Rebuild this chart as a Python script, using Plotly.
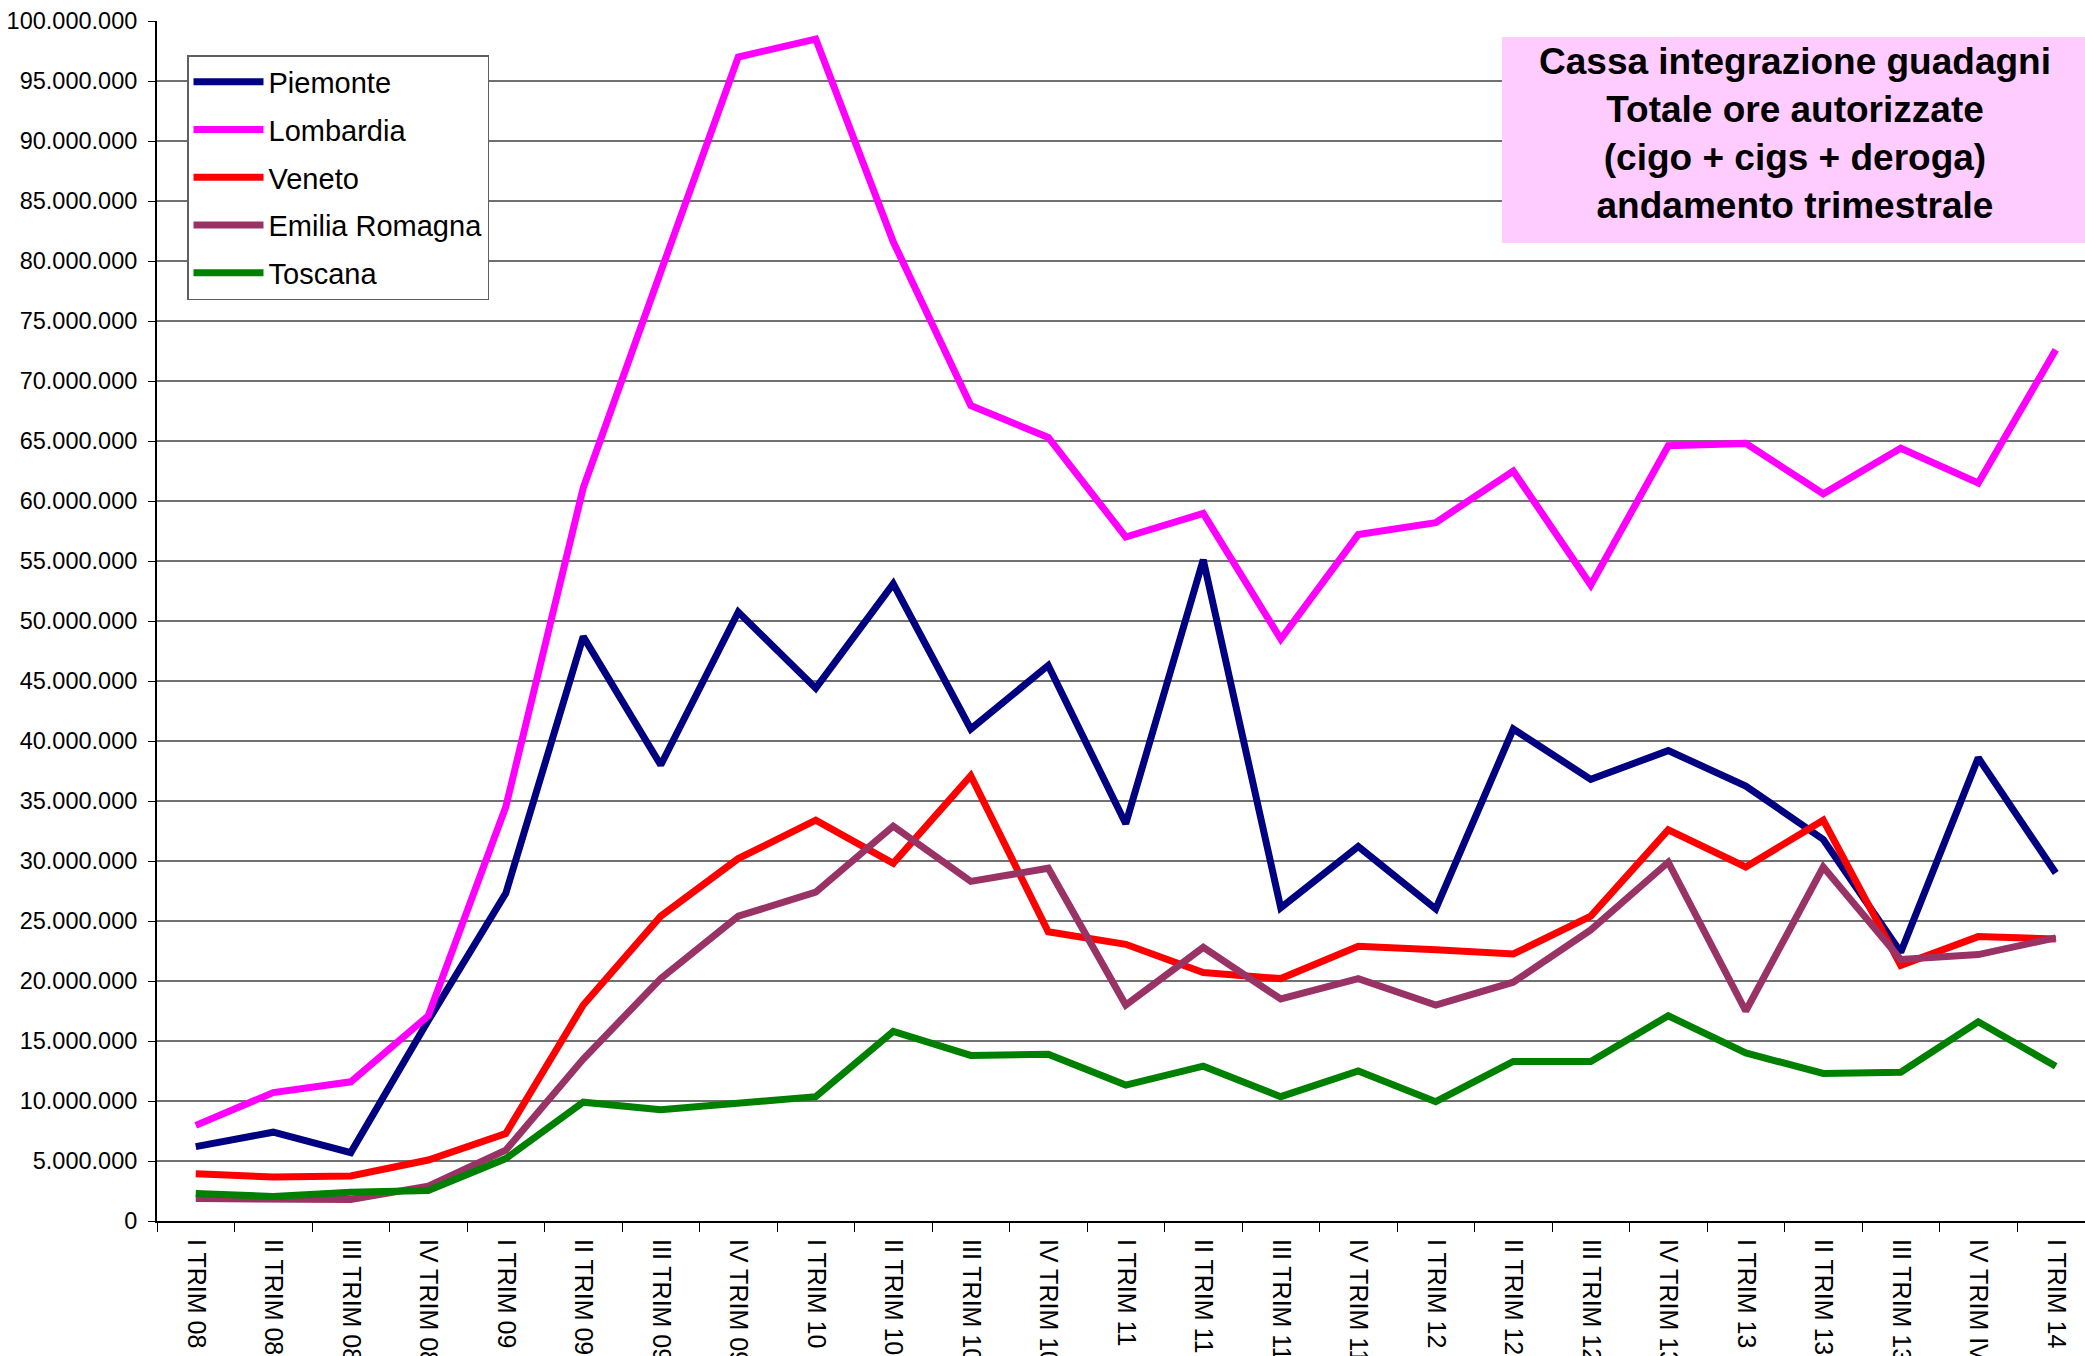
import plotly.graph_objects as go

categories = [
    "I TRIM 08", "II TRIM 08", "III TRIM 08", "IV TRIM 08",
    "I TRIM 09", "II TRIM 09", "III TRIM 09", "IV TRIM 09",
    "I TRIM 10", "II TRIM 10", "III TRIM 10", "IV TRIM 10",
    "I TRIM 11", "II TRIM 11", "III TRIM 11", "IV TRIM 11",
    "I TRIM 12", "II TRIM 12", "III TRIM 12", "IV TRIM 13",
    "I TRIM 13", "II TRIM 13", "III TRIM 13", "IV TRIM IV",
    "I TRIM 14",
]

piemonte = [6.2, 7.4, 5.7, 16.7, 27.3, 48.7, 38.0, 50.75, 44.4, 53.1, 41.0, 46.3,
            33.1, 55.1, 26.1, 31.2, 26.0, 41.0, 36.8, 39.2, 36.25, 31.8, 22.4, 38.6, 29.0]
lombardia = [7.97, 10.7, 11.6, 17.1, 34.5, 61.1, 79.1, 97.0, 98.5, 81.6, 67.95, 65.3,
             57.0, 58.97, 48.5, 57.2, 58.2, 62.5, 53.0, 64.6, 64.8, 60.6, 64.4, 61.5, 72.6]
veneto = [3.93, 3.67, 3.75, 5.08, 7.28, 18.0, 25.4, 30.2, 33.4, 29.8, 37.1, 24.1,
          23.06, 20.7, 20.2, 22.9, 22.6, 22.25, 25.4, 32.6, 29.5, 33.4, 21.3, 23.7, 23.5]
emilia_romagna = [1.87, 1.87, 1.8, 2.9, 5.9, 13.5, 20.2, 25.4, 27.4, 32.9, 28.3, 29.4,
                  18.0, 22.8, 18.5, 20.2, 18.0, 19.9, 24.25, 29.9, 17.5, 29.5, 21.8, 22.2, 23.6]
toscana = [2.3, 2.05, 2.4, 2.55, 5.2, 9.9, 9.27, 9.75, 10.36, 15.8, 13.8, 13.9,
           11.33, 12.9, 10.36, 12.5, 9.94, 13.3, 13.3, 17.1, 14.0, 12.3, 12.4, 16.6, 12.9]

series_names = ["Piemonte", "Lombardia", "Veneto", "Emilia Romagna", "Toscana"]
series_values = [piemonte, lombardia, veneto, emilia_romagna, toscana]
series_colors = ["#000080", "#FF00FF", "#FF0000", "#993366", "#008000"]

y_ticks = list(range(0, 100_000_001, 5_000_000))

title_lines = ["Cassa integrazione guadagni", "Totale ore autorizzate",
               "(cigo + cigs + deroga)", "andamento trimestrale"]

FONT = "Arial, 'Liberation Sans', sans-serif"
W, H = 2085, 1356
L, T, B = 157, 21, 135
plot_w = W - L
plot_h = H - T - B
cat_w = 77.5


def px(xp):  # page x -> paper x
    return (xp - L) / plot_w


def py(yp):  # page y -> paper y
    return (H - B - yp) / plot_h


fig = go.Figure()
for name, vals, col in zip(series_names, series_values, series_colors):
    fig.add_trace(go.Scatter(
        x=categories, y=[v * 1_000_000 for v in vals], name=name, mode="lines",
        line=dict(color=col, width=7), legendgroup=name,
    ))

x_max = -0.5 + plot_w / cat_w

fig.update_layout(
    width=W, height=H,
    margin=dict(l=L, r=0, t=T, b=B, autoexpand=False),
    paper_bgcolor="white", plot_bgcolor="white",
    separators=",.",
    font=dict(family=FONT, color="black"),
    showlegend=True,
    legend=dict(
        x=px(187), y=py(55), xanchor="left", yanchor="top",
        bgcolor="white", bordercolor="#606060", borderwidth=1.5,
        font=dict(family=FONT, size=29, color="black"),
        tracegroupgap=7, itemwidth=70,
    ),
    xaxis=dict(
        type="category", range=[-0.5, x_max], tickson="boundaries",
        ticks="outside", ticklen=9, tickcolor="black", tickwidth=1,
        showline=True, linecolor="black", linewidth=2,
        showgrid=False, tickangle=90, automargin=False,
        tickfont=dict(family=FONT, size=25, color="black"),
        ticklabelstandoff=11,
    ),
    yaxis=dict(
        range=[0, 100_000_000], tickvals=y_ticks, tickformat=",.0f",
        ticks="outside", ticklen=7, tickcolor="black", tickwidth=1,
        showline=True, linecolor="black", linewidth=2,
        showgrid=True, gridcolor="#707070", gridwidth=1.5,
        zeroline=False, automargin=False,
        tickfont=dict(family=FONT, size=23.5, color="black"),
        ticklabelstandoff=6,
    ),
)

fig.add_shape(type="rect", xref="paper", yref="paper",
              x0=px(1502), x1=1.05, y0=py(243), y1=py(37),
              fillcolor="#FFCCFF", line=dict(width=0), layer="above")
fig.add_annotation(xref="paper", yref="paper",
                   x=px(1795), y=py(134),
                   xanchor="center", yanchor="middle", showarrow=False,
                   text="<br>".join("<b>%s</b>" % t for t in title_lines),
                   align="center",
                   font=dict(family=FONT, size=37, color="black"))

fig.write_html(
    "out.html",
    config={"displayModeBar": False},
    post_script="document.body.style.margin='0';document.body.style.overflow='hidden';",
)
